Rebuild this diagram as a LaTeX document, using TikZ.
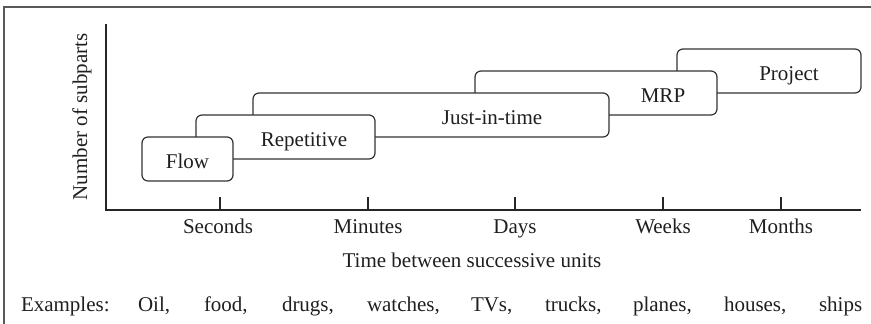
\documentclass[tikz,border=0pt]{standalone}
\usepackage{fontspec}
\setmainfont{Liberation Serif}
\begin{document}
\begin{tikzpicture}[x=1pt,y=-1pt,
  every node/.style={inner sep=0pt,outer sep=0pt,text=black!88,font=\fontsize{21}{25}\selectfont},
  bx/.style={draw=black!80,line width=1.2pt,rounded corners=6pt,fill=white,minimum height=44pt},
  lbl/.style={anchor=base},
  axis/.style={draw=black!85,line width=1.2pt},
  frame/.style={draw=black!65,line width=1.5pt},
  ex/.style={anchor=base west}]
\useasboundingbox (0,0) rectangle (871,324);
\draw[frame] (4,330) -- (4,7) -- (880,7);
% axes
\coordinate (o) at (106,210);
\coordinate (ytop) at (106,24);
\coordinate (xend) at (861,210);
\draw[axis] (ytop) -- (o) -- (xend);
\foreach \n/\x in {sec/220,min/368,day/515,week/663,month/781}{
  \coordinate (t\n) at (\x,197);
  \coordinate (b\n) at (\x,210.6);
  \draw[axis] (t\n) -- (b\n);
}
\node[lbl] (lsec) at (218,233) {Seconds};
\node[lbl] (lmin) at (368,233) {Minutes};
\node[lbl] (lday) at (515,233) {Days};
\node[lbl] (lweek) at (663,233) {Weeks};
\node[lbl] (lmonth) at (781,233) {Months};
\node[lbl] (xlab) at (472,267) {Time between successive units};
\node[rotate=90] (ylab) at (82,117) {Number of subparts};
% boxes (back to front)
\node[bx,minimum width=184pt] (project) at (769,71) {};
\node[bx,minimum width=242pt] (mrp) at (596,93) {};
\node[bx,minimum width=356pt] (jit) at (431,115) {};
\node[bx,minimum width=179pt] (rep) at (285.5,137) {};
\node[bx,minimum width=91pt] (flow) at (187.5,159) {};
\node[lbl] (tflow) at (187.5,168) {Flow};
\node[lbl] (trep) at (304,146) {Repetitive};
\node[lbl] (tjit) at (492,124) {Just-in-time};
\node[lbl] (tmrp) at (663,102) {MRP};
\node[lbl] (tproject) at (789,80) {Project};
% examples
\node[ex] (e0) at (21,311) {Examples:};
\node[ex] (e1) at (138,311) {Oil,};
\node[ex] (e2) at (204,311) {food,};
\node[ex] (e3) at (282,311) {drugs,};
\node[ex] (e4) at (367,311) {watches,};
\node[ex] (e5) at (471,311) {TVs,};
\node[ex] (e6) at (545,311) {trucks,};
\node[ex] (e7) at (633,311) {planes,};
\node[ex] (e8) at (724,311) {houses,};
\node[ex] (e9) at (819,311) {ships};
\end{tikzpicture}
\end{document}
